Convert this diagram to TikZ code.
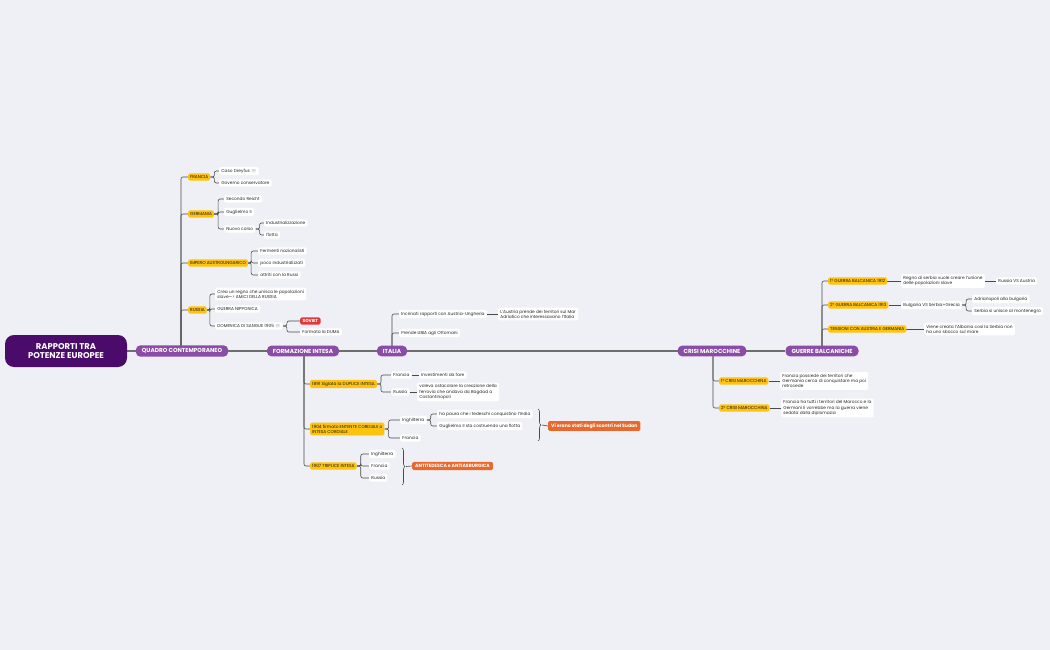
\documentclass[tikz,border=0pt]{standalone}
\usepackage{fontspec}
\setmainfont{Poppins}
\usetikzlibrary{backgrounds,decorations.pathreplacing,calc}
\definecolor{bg}{HTML}{EFF0F5}
\definecolor{mpur}{HTML}{8A4CA6}
\definecolor{root}{HTML}{4A0B6B}
\definecolor{myel}{HTML}{FFC20E}
\definecolor{mor}{HTML}{E8692D}
\definecolor{mred}{HTML}{E23A3A}
\definecolor{ln}{HTML}{4A4A4A}
\tikzset{
 main/.style={fill=mpur,text=white,rounded corners=4.5pt,font=\fontsize{5.8}{6.5}\selectfont\bfseries,inner xsep=6pt,inner ysep=3.3pt},
 rootn/.style={fill=root,text=white,rounded corners=9pt,font=\fontsize{8.4}{9.8}\selectfont\bfseries,align=center,minimum width=122pt,minimum height=32pt},
 yel/.style={fill=myel,rounded corners=1.5pt,font=\fontsize{4.3}{5.2}\selectfont,text=black!90,inner xsep=2pt,inner ysep=2pt,align=left},
 leaf/.style={fill=white,rounded corners=1.5pt,font=\fontsize{4.3}{5.2}\selectfont,text=black!85,inner xsep=2.2pt,inner ysep=2pt,align=left},
 orn/.style={fill=mor,text=white,rounded corners=1.5pt,font=\fontsize{4.6}{5.3}\selectfont\bfseries,inner xsep=3pt,inner ysep=2.5pt},
 redn/.style={fill=mred,text=white,rounded corners=1.5pt,font=\fontsize{4.3}{5.2}\selectfont\bfseries,inner xsep=2.5pt,inner ysep=2pt},
 c/.style={draw=ln,line width=0.6pt,rounded corners=2pt},
 ax/.style={draw=ln!80,line width=1.4pt},
 br/.style={draw=ln,line width=0.6pt,decorate,decoration={brace,amplitude=3pt}}
}
\newcommand{\lk}[3]{\draw[c] (#1.east) -- ($(#1.east)+(#2,0)$) |- (#3.west);}
\newcommand{\st}[2]{\draw[c] (#1.east) -- (#2.west);}
\begin{document}
\begin{tikzpicture}[x=1pt,y=-1pt]
\useasboundingbox (0,0) rectangle (1050,650);
% main
\node[rootn] (r) at (66,351) {RAPPORTI TRA\\POTENZE EUROPEE};
\node[main] (q) at (182,351) {QUADRO CONTEMPORANEO};
\node[main] (fi) at (303,351) {FORMAZIONE INTESA};
\node[main] (it) at (392,351) {ITALIA};
\node[main] (cm) at (712,351) {CRISI MAROCCHINE};
\node[main] (gb) at (822,351) {GUERRE BALCANICHE};
% quadro
\node[yel,anchor=west] (fr) at (188,177) {FRANCIA};
\node[yel,anchor=west] (ge) at (188,214) {GERMANIA};
\node[yel,anchor=west] (ia) at (188,263) {IMPERO AUSTROUNGARICO};
\node[yel,anchor=west] (ru) at (188,310) {RUSSIA};
\node[leaf,anchor=west] (fr1) at (219,171) {Caso Dreyfus \textcolor{gray}{\tiny$\equiv$}};
\node[leaf,anchor=west] (fr2) at (219,183) {Governo conservatore};
\node[leaf,anchor=west] (ge1) at (224,199) {Secondo Reicht};
\node[leaf,anchor=west] (ge2) at (224,212) {Guglielmo II};
\node[leaf,anchor=west] (ge3) at (224,229) {Nuovo corso};
\node[leaf,anchor=west] (ge31) at (264,223) {Industrializzazione};
\node[leaf,anchor=west] (ge32) at (264,235) {flotta};
\node[leaf,anchor=west] (ia1) at (258,251) {Fermenti nazionalisti};
\node[leaf,anchor=west] (ia2) at (258,263) {poco industrializzati};
\node[leaf,anchor=west] (ia3) at (258,275) {attriti con la Russi};
\node[leaf,anchor=west] (ru1) at (215,294) {Crea un regno che unisca le popolazioni\\slave---> AMICI DELLA RUSSIA};
\node[leaf,anchor=west] (ru2) at (215,309) {GUERRA NIPPONICA};
\node[leaf,anchor=west] (ru3) at (215,326) {DOMENICA DI SANGUE 1905 \textcolor{gray}{\tiny$\equiv$}};
\node[redn,anchor=west] (so) at (300,321) {SOVIET};
\node[leaf,anchor=west] (du) at (300,332) {Formata la DUMA};
% formazione
\node[yel,anchor=west] (d1) at (310,384) {1891 Siglata la DUPLICE INTESA};
\node[yel,anchor=west] (d2) at (310,429) {1904 firmato ENTENTE CORDIALE o\\INTESA CORDIALE};
\node[yel,anchor=west] (d3) at (310,466) {1907 TRIPLICE INTESA};
\node[leaf,anchor=west] (d11) at (391,375) {Francia};
\node[leaf,anchor=west] (d111) at (419,375) {Investimenti da fare};
\node[leaf,anchor=west] (d12) at (391,392) {Russia};
\node[leaf,anchor=west] (d121) at (417,392) {voleva ostacolare la creazione della\\ferrovia che andava da Bagdad a\\Costantinopoli};
\node[leaf,anchor=west] (d21) at (400,420) {Inghilterra};
\node[leaf,anchor=west] (d211) at (437,414) {ha paura che i tedeschi conquistino l'India};
\node[leaf,anchor=west] (d212) at (437,426) {Guglielmo II sta costruendo una flotta};
\node[leaf,anchor=west] (d22) at (400,438) {Francia};
\node[orn,anchor=west] (su) at (548,426) {Vi erano stati degli scontri nel Sudan};
\node[leaf,anchor=west] (d31) at (369,454) {Inghilterra};
\node[leaf,anchor=west] (d32) at (369,466) {Francia};
\node[leaf,anchor=west] (d33) at (369,478) {Russia};
\node[orn,anchor=west] (an) at (412,466) {ANTITEDESCA e ANTIASBURGICA};
% italia
\node[leaf,anchor=west] (i1) at (399,314) {Incrinati rapporti con Austria-Ungheria};
\node[leaf,anchor=west] (i11) at (498,314) {L'Austria prende dei territori sul Mar\\Adriatico che interessavano l'Italia};
\node[leaf,anchor=west] (i2) at (399,333) {Prende LIBIA agli Ottomani};
% crisi
\node[yel,anchor=west] (c1) at (719,381) {1° CRISI MAROCCHINA};
\node[leaf,anchor=west] (c11) at (780,381) {Francia possiede dei territori che\\Germania cerca di conquistare ma poi\\retrocede};
\node[yel,anchor=west] (c2) at (719,408) {2° CRISI MAROCCHINA};
\node[leaf,anchor=west] (c21) at (781,408) {Francia ha tutti i territori del Marocco e la\\Germani li vorrebbe ma la guerra viene\\sedata dalla diplomazia};
% guerre
\node[yel,anchor=west] (g1) at (828,281) {1° GUERRA BALCANICA 1912};
\node[leaf,anchor=west] (g11) at (901,281) {Regno di serbia vuole creare l'unione\\delle popolazioni slave};
\node[leaf,anchor=west] (g111) at (996,281) {Russia VS Austria};
\node[yel,anchor=west] (g2) at (828,305) {2° GUERRA BALCANICA 1913};
\node[leaf,anchor=west] (g21) at (901,305) {Bulgaria VS Serbia+Grecia};
\node[leaf,anchor=west] (g211) at (972,299) {Adrianopoli alla bulgaria};
\node[leaf,anchor=west] (g212) at (972,311) {Serbia si unisce al montenegro};
\node[yel,anchor=west] (g3) at (828,329) {TENSIONI CON AUSTRIA E GERMANIA};
\node[leaf,anchor=west] (g31) at (924,329) {Viene creata l'Albania così la Serbia non\\ha uno sbocco sul mare};
\begin{scope}[on background layer]
\fill[bg] (0,0) rectangle (1050,650);
\draw[ax] (r) -- (gb);
\foreach \n in {fr,ge,ia,ru} {\draw[c] (181,351) |- (\n.west);}
\foreach \n in {d1,d2,d3} {\draw[c] (304,351) |- (\n.west);}
\foreach \n in {i1,i2} {\draw[c] (392,351) |- (\n.west);}
\foreach \n in {c1,c2} {\draw[c] (713,351) |- (\n.west);}
\foreach \n in {g1,g2,g3} {\draw[c] (822,351) |- (\n.west);}
\foreach \n in {fr1,fr2} {\lk{fr}{4}{\n}}
\foreach \n in {ge1,ge2,ge3} {\lk{ge}{4}{\n}}
\foreach \n in {ge31,ge32} {\lk{ge3}{4}{\n}}
\foreach \n in {ia1,ia2,ia3} {\lk{ia}{3}{\n}}
\foreach \n in {ru1,ru2,ru3} {\lk{ru}{3}{\n}}
\foreach \n in {so,du} {\lk{ru3}{4}{\n}}
\foreach \n in {d11,d12} {\lk{d1}{4}{\n}}
\st{d11}{d111}
\st{d12}{d121}
\foreach \n in {d21,d22} {\lk{d2}{4}{\n}}
\foreach \n in {d211,d212} {\lk{d21}{4}{\n}}
\foreach \n in {d31,d32,d33} {\lk{d3}{4}{\n}}
\st{i1}{i11}
\st{c1}{c11}
\st{c2}{c21}
\st{g1}{g11}
\st{g11}{g111}
\st{g2}{g21}
\foreach \n in {g211,g212} {\lk{g21}{4}{\n}}
\st{g3}{g31}
\end{scope}
\draw[br] (538,409) -- (538,441) coordinate[midway] (bs);
\draw[c] ($(bs)+(4,0)$) -- (su.west);
\draw[br] (402,448) -- (402,485) coordinate[midway] (ba);
\draw[c] ($(ba)+(4,0)$) -- (an.west);
\end{tikzpicture}
\end{document}
